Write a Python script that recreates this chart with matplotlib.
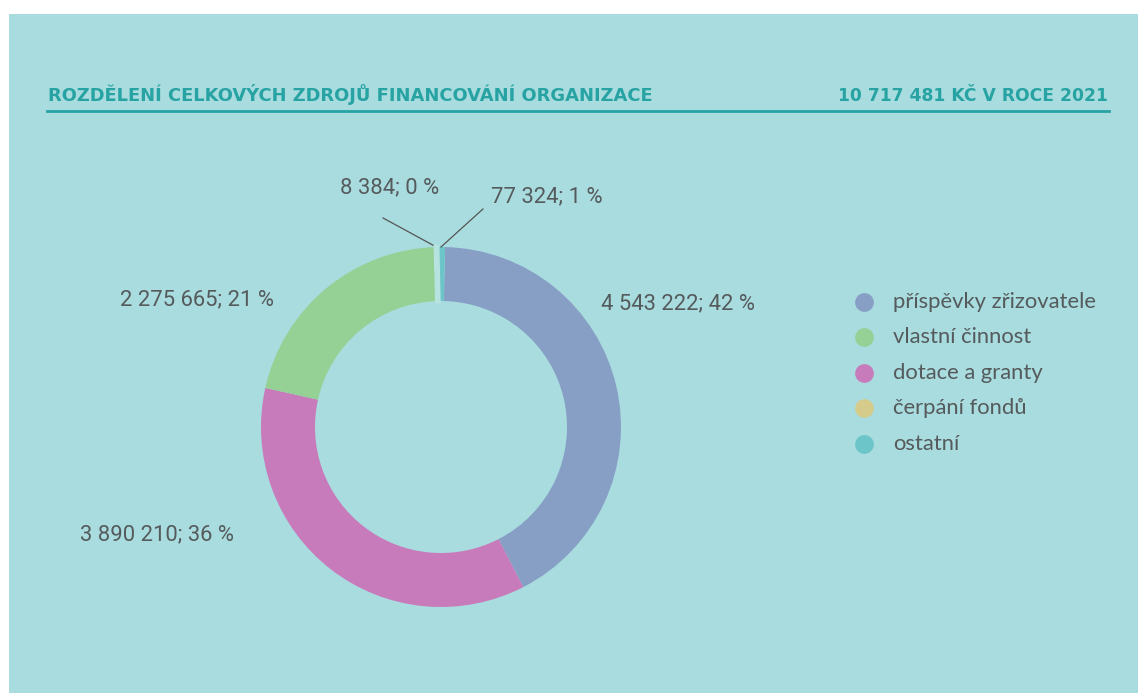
import matplotlib
matplotlib.use("Agg")
import matplotlib.pyplot as plt
from matplotlib.patches import Rectangle
from matplotlib.lines import Line2D
import numpy as np

# ---- data ----
categories = ["příspěvky zřizovatele", "vlastní činnost", "dotace a granty", "čerpání fondů", "ostatní"]
values = [4543222, 2275665, 3890210, 8384, 77324]
percent_labels = ["42 %", "21 %", "36 %", "0 %", "1 %"]
title_left = "ROZDĚLENÍ CELKOVÝCH ZDROJŮ FINANCOVÁNÍ ORGANIZACE"
title_right = "10 717 481 KČ V ROCE 2021"

# ---- styles ----
colors = ["#879fc5", "#95d095", "#c87bbb", "#d5cb8a", "#6cc5c8"]
bg = "#a9dcdf"
title_color = "#27a3a3"
text_color = "#555a5c"

W, H = 1138, 693
fig = plt.figure(figsize=(W / 100, H / 100), dpi=100, facecolor="white")
fig.add_artist(Rectangle((9 / W, 0), 1, 1 - 14 / H, transform=fig.transFigure,
                         facecolor=bg, edgecolor="none", zorder=0))

def fx(px):
    return px / W

def fy(py):
    return 1 - py / H

# Title and underline
fig.text(fx(48), fy(101), title_left, color=title_color, fontsize=12.9,
         fontweight="bold", family="DejaVu Sans", ha="left", va="baseline")
fig.text(fx(1108), fy(101), title_right, color=title_color, fontsize=12.3,
         fontweight="bold", family="DejaVu Sans", ha="right", va="baseline")
fig.add_artist(Line2D([fx(47), fx(1109)], [fy(111), fy(111)], color=title_color,
                      lw=2, transform=fig.transFigure))

# Donut
cx, cy, R = 441, 427, 180
ax = fig.add_axes([fx(cx - R), fy(cy + R), 2 * R / W, 2 * R / H])
ax.set_facecolor("none")
ax.axis("off")

# drawing order (clockwise from top): blue, pink, green, yellow, teal
order = [0, 2, 1, 3, 4]
vals = [values[i] for i in order]
cols = [colors[i] for i in order]
total = sum(vals)
start = 90 - 360 * vals[-1] / total / 2
wedges, _ = ax.pie(vals, colors=cols, startangle=start, counterclock=False,
                   radius=1.0, wedgeprops=dict(width=0.30, edgecolor="none", linewidth=0))
ax.set_xlim(-1, 1)
ax.set_ylim(-1, 1)
ax.set_aspect("equal")
# tiny yellow slice shows as a pale sliver
wedges[3].set_edgecolor("#b6e2df")
wedges[3].set_linewidth(3.6)
wedges[3].set_zorder(3)

def fmt(v):
    return f"{v:,}".replace(",", " ")

# label positions (in radius units relative to center), per category index
label_pos = {0: (0.889, 0.683, "left"), 1: (-0.928, 0.706, "right"),
             2: (-1.15, -0.60, "right"), 3: (-0.283, 1.328, "center"),
             4: (0.589, 1.278, "center")}
leader_start = {3: (-0.322, 1.161), 4: (0.233, 1.211)}

for k, i in enumerate(order):
    x, y, ha = label_pos[i]
    ax.text(x, y, f"{fmt(values[i])}; {percent_labels[i]}", ha=ha, va="center",
            fontsize=15.8, color=text_color, family="Roboto", clip_on=False)
    if i in leader_start:
        w = wedges[k]
        ang = np.deg2rad((w.theta1 + w.theta2) / 2)
        ex, ey = np.cos(ang), np.sin(ang)
        sx, sy = leader_start[i]
        ax.plot([sx, ex], [sy, ey], color="#555555", lw=0.9, clip_on=False)

# Legend
for j, cat in enumerate(categories):
    py = 302 + j * 35.4
    fig.add_artist(Line2D([fx(864)], [fy(py)], marker="o", markersize=13.5,
                          markerfacecolor=colors[j], markeredgecolor="none",
                          linestyle="none", transform=fig.transFigure))
    fig.text(fx(893), fy(py), cat, color=text_color, fontsize=15.8, family="Lato",
             ha="left", va="center")

fig.savefig("out.png", dpi=100, facecolor="white")
